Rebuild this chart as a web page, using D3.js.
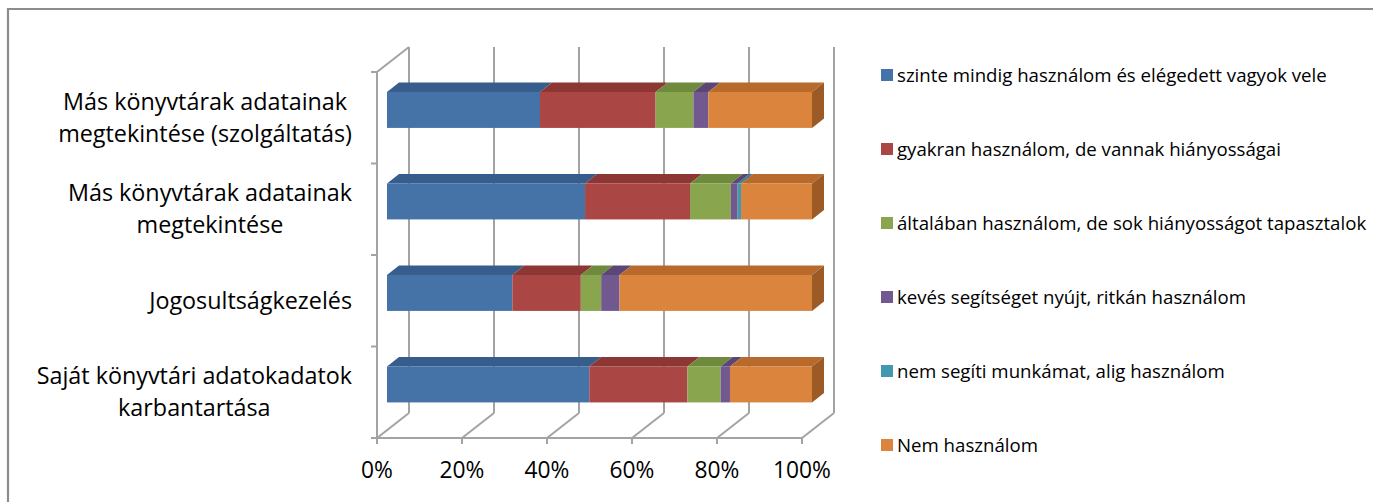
<!DOCTYPE html>
<html><head><meta charset="utf-8">
<script src="https://cdn.jsdelivr.net/npm/d3@7/dist/d3.min.js"></script>
<style>
html,body{margin:0;padding:0;background:#fff;}
svg{display:block;}
text{font-family:"Open Sans",Lato,sans-serif;fill:#000;}
</style></head>
<body>
<svg id="chart" width="1373" height="502"></svg>
<script>
const categories = [
  ["Más könyvtárak adatainak", "megtekintése (szolgáltatás)"],
  ["Más könyvtárak adatainak", "megtekintése"],
  ["Jogosultságkezelés"],
  ["Saját könyvtári adatokadatok", "karbantartása"]
];
const seriesNames = [
  "szinte mindig használom és elégedett vagyok vele",
  "gyakran használom, de vannak hiányosságai",
  "általában használom, de sok hiányosságot tapasztalok",
  "kevés segítséget nyújt, ritkán használom",
  "nem segíti munkámat, alig használom",
  "Nem használom"
];
const s1 = [36, 46.6, 29.5, 47.6];
const s2 = [27.2, 24.7, 16.1, 23.1];
const s3 = [8.9, 9.6, 4.8, 7.8];
const s4 = [3.5, 1.6, 4.3, 2.2];
const s5 = [0, 0.8, 0, 0];
const s6 = [24.4, 16.7, 45.3, 19.3];
const tickLabels = ["0%", "20%", "40%", "60%", "80%", "100%"];
const tickValues = [0, 20, 40, 60, 80, 100];

const colors = ["#4572a7", "#aa4643", "#89a54e", "#71588f", "#4198af", "#db843d"];
const topColors = ["#375d8c", "#8d3735", "#6f8a3c", "#5b4676", "#327f93", "#b86a2c"];
const sideColors = ["#2f5078", "#76302e", "#5e7533", "#4d3b64", "#2a6b7c", "#9c5a26"];

const svg = d3.select("#chart");

// size a font so that a sample string spans a given width
function fitSize(sample, width) {
  const t = svg.append("text").style("font-size", "20px").text(sample);
  const w = t.node().getComputedTextLength();
  t.remove();
  return 20 * width / w;
}
const labelSize = fitSize("Jogosultságkezelés", 203);
const legendSize = fitSize("szinte mindig használom és elégedett vagyok vele", 430);
const tickSize = fitSize("100%", 58);

// outer border
svg.append("path").attr("d", "M8,505 L8,9 L1380,9").attr("fill", "none")
  .attr("stroke", "#8c8c8c").attr("stroke-width", 2.2);

const x = d3.scaleLinear().domain([0, 100]).range([377, 802]);
const yOuter = d3.scaleBand().domain(d3.range(categories.length)).range([72, 438]);
const y = d3.scaleBand().domain(d3.range(categories.length)).range([72, 438])
  .paddingInner(0.607).paddingOuter(0.3035);
const DX = 32, DY = -25;           // full depth
const fF = 10 / 32, fB = 22 / 32;  // bar front/back depth fractions

const grid = "#a3a3a3";
const g = svg.append("g");
tickValues.forEach(v => {
  g.append("line").attr("x1", x(v) + DX).attr("x2", x(v) + DX)
    .attr("y1", 72 + DY).attr("y2", 438 + DY)
    .attr("stroke", grid).attr("stroke-width", 2);
  g.append("line").attr("x1", x(v)).attr("y1", 438)
    .attr("x2", x(v) + DX).attr("y2", 438 + DY)
    .attr("stroke", grid).attr("stroke-width", 2);
});
g.append("path").attr("d", `M${x(0)},438 L${x(0)},72 L${x(0) + DX},${72 + DY}`)
  .attr("fill", "none").attr("stroke", grid).attr("stroke-width", 2);
g.append("line").attr("x1", x(0)).attr("x2", x(100)).attr("y1", 438).attr("y2", 438)
  .attr("stroke", grid).attr("stroke-width", 2);
tickValues.forEach(v => {
  g.append("line").attr("x1", x(v)).attr("x2", x(v)).attr("y1", 438).attr("y2", 444)
    .attr("stroke", grid).attr("stroke-width", 2);
});
d3.range(categories.length + 1).forEach(i => {
  const yy = 72 + yOuter.step() * i;
  g.append("line").attr("x1", x(0) - 6).attr("x2", x(0)).attr("y1", yy).attr("y2", yy)
    .attr("stroke", grid).attr("stroke-width", 2);
});

// bars
const rows = categories.map((c, i) => {
  const o = {};
  [s1, s2, s3, s4, s5, s6].forEach((s, k) => o["k" + k] = s[i]);
  return o;
});
const keys = seriesNames.map((_, k) => "k" + k);
const stacked = d3.stack().keys(keys)(rows);
const bars = svg.append("g");
categories.forEach((c, i) => {
  const ox = DX * fF, oy = DY * fF;
  const bx = DX * (fB - fF), by = DY * (fB - fF);
  const y0 = y(i) + oy, h = y.bandwidth();
  let lastK = -1;
  stacked.forEach((layer, k) => {
    const a = layer[i][0], b = layer[i][1];
    if (b - a <= 0) return;
    lastK = k;
    const xa = x(a) + ox, xb = x(b) + ox;
    bars.append("path")
      .attr("d", `M${xa},${y0} L${xa + bx},${y0 + by} L${xb + bx},${y0 + by} L${xb},${y0} Z`)
      .attr("fill", topColors[k]);
    bars.append("rect").attr("x", xa).attr("y", y0).attr("width", xb - xa).attr("height", h)
      .attr("fill", colors[k]);
  });
  const xe = x(100) + ox;
  bars.append("path")
    .attr("d", `M${xe},${y0} L${xe + bx},${y0 + by} L${xe + bx},${y0 + by + h} L${xe},${y0 + h} Z`)
    .attr("fill", sideColors[lastK]);
});

// category labels
const lab = svg.append("g");
categories.forEach((lines, i) => {
  const cy = yOuter(i) + yOuter.bandwidth() / 2;
  const t = lab.append("text").attr("text-anchor", "middle").style("font-size", labelSize + "px");
  const b1 = lines.length === 2 ? cy - 8 : cy + 8;
  const spans = lines.map((ln, j) => t.append("tspan").attr("x", 0).attr("y", b1 + 32 * j).text(ln));
  const w = d3.max(spans, s => s.node().getComputedTextLength());
  spans.forEach(s => s.attr("x", 352 - w / 2));
});

// x tick labels
svg.append("g").selectAll("text").data(tickValues).join("text")
  .attr("x", d => x(d)).attr("y", 478).attr("text-anchor", "middle")
  .style("font-size", tickSize + "px").text((d, i) => tickLabels[i]);

// legend
const leg = svg.append("g");
seriesNames.forEach((n, k) => {
  const cy = 75 + 74 * k;
  leg.append("rect").attr("x", 881).attr("y", cy - 6).attr("width", 12).attr("height", 12)
    .attr("fill", colors[k]);
  leg.append("text").attr("x", 897).attr("y", cy + 7).style("font-size", legendSize + "px").text(n);
});
</script>
</body></html>
